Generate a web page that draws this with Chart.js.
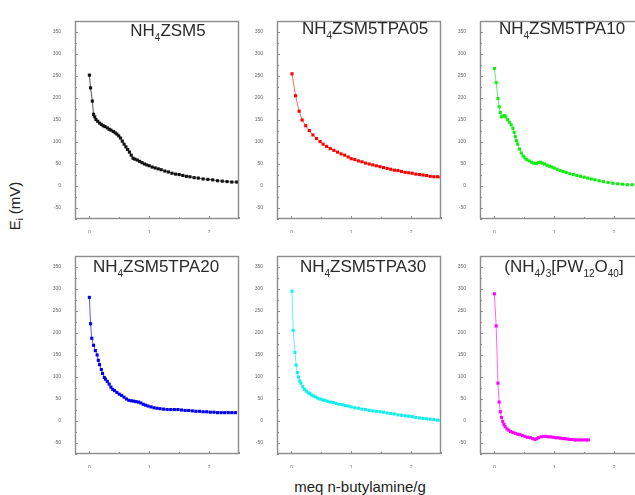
<!DOCTYPE html>
<html>
<head>
<meta charset="utf-8">
<script src="https://cdn.jsdelivr.net/npm/chart.js@4.4.1/dist/chart.umd.min.js"></script>
<style>
  html, body { margin: 0; padding: 0; background: #fff; overflow: hidden; }
  body { width: 635px; height: 495px; position: relative; font-family: "Liberation Sans", Arial, sans-serif; }
  .panel { position: absolute; }
  .panel canvas { display: block; }
  .title { position: absolute; transform: translate(-50%, -50%); white-space: nowrap; font-size: 17px; color: #2a2a2a; }
  .title sub { font-size: 10px; vertical-align: -5px; }
  .ytitle { position: absolute; left: 15px; top: 206px; transform: translate(-50%, -50%) rotate(-90deg); font-size: 15px; color: #222; white-space: nowrap; }
  .ytitle sub { font-size: 9px; vertical-align: -3px; }
  .xtitle { position: absolute; left: 360px; top: 486px; transform: translate(-50%, -50%); font-size: 15px; color: #222; white-space: nowrap; }
</style>
</head>
<body>
<div class="ytitle">E<sub>i</sub> (mV)</div>
<div class="xtitle">meq n-butylamine/g</div>
<script>
// axis ticks shared by all panels
const X_MAJOR = [0, 1, 2];
const X_MINOR = [0.5, 1.5, 2.5];
const Y_MAJOR = [-50, 0, 50, 100, 150, 200, 250, 300, 350];
const Y_MINOR = [-75, -25, 25, 75, 125, 175, 225, 275, 325, 375];

// NH4ZSM5 (black)
const ZSM5_X = [0.00, 0.02, 0.05, 0.07, 0.09, 0.11, 0.14, 0.17, 0.20, 0.23, 0.26, 0.30, 0.33, 0.36, 0.40, 0.43, 0.46, 0.49, 0.52, 0.55, 0.58, 0.61, 0.64, 0.67, 0.70, 0.73, 0.76, 0.80, 0.84, 0.88, 0.92, 0.96, 1.00, 1.05, 1.10, 1.15, 1.20, 1.26, 1.32, 1.38, 1.44, 1.50, 1.56, 1.62, 1.68, 1.75, 1.82, 1.90, 1.98, 2.06, 2.14, 2.22, 2.30, 2.38, 2.46, 2.52];
const ZSM5_Y = [252, 223, 193, 163, 157, 151, 147, 143, 140, 137, 135, 132, 129, 127, 124, 121, 118, 114, 109, 102, 95, 89, 83, 77, 70, 63, 61, 59, 56, 53, 50, 48, 46, 43, 41, 39, 37, 34, 32, 29, 27, 26, 24, 22, 21, 19, 18, 16, 15, 14, 12, 11, 10, 9, 9, 8];

// NH4ZSM5TPA05 (red)
const TPA05_X = [0.01, 0.07, 0.13, 0.18, 0.24, 0.30, 0.36, 0.42, 0.48, 0.53, 0.59, 0.65, 0.71, 0.77, 0.83, 0.89, 0.95, 1.00, 1.06, 1.12, 1.18, 1.24, 1.30, 1.36, 1.42, 1.48, 1.54, 1.60, 1.66, 1.72, 1.78, 1.84, 1.90, 1.96, 2.02, 2.08, 2.14, 2.20, 2.26, 2.32, 2.38, 2.44, 2.50];
const TPA05_Y = [255, 205, 170, 150, 137, 126, 116, 108, 101, 95, 90, 85, 81, 77, 73, 70, 66, 62, 60, 57, 55, 52, 50, 48, 46, 44, 42, 40, 38, 36, 35, 33, 31, 30, 29, 27, 26, 25, 24, 22, 21, 21, 20];

// NH4ZSM5TPA10 (green)
const TPA10_X = [0.00, 0.03, 0.06, 0.08, 0.10, 0.12, 0.14, 0.17, 0.19, 0.22, 0.25, 0.28, 0.31, 0.33, 0.35, 0.37, 0.39, 0.42, 0.45, 0.48, 0.51, 0.54, 0.58, 0.62, 0.66, 0.70, 0.74, 0.77, 0.80, 0.84, 0.88, 0.92, 0.96, 1.00, 1.05, 1.10, 1.15, 1.20, 1.26, 1.32, 1.38, 1.44, 1.50, 1.56, 1.62, 1.68, 1.75, 1.82, 1.90, 1.98, 2.06, 2.14, 2.22, 2.30, 2.38, 2.46, 2.52];
const TPA10_Y = [267, 235, 199, 180, 167, 157, 159, 160, 157, 151, 145, 139, 131, 122, 112, 103, 95, 84, 75, 68, 64, 60, 57, 54, 52, 51, 53, 54, 52, 50, 47, 45, 43, 41, 38, 35, 33, 31, 28, 26, 24, 22, 20, 18, 16, 14, 12, 10, 8, 6, 5, 4, 3, 3, 2, 2, 2];

// NH4ZSM5TPA20 (blue)
const TPA20_X = [0.00, 0.02, 0.04, 0.07, 0.10, 0.13, 0.15, 0.17, 0.20, 0.22, 0.25, 0.27, 0.30, 0.33, 0.36, 0.39, 0.42, 0.46, 0.50, 0.54, 0.58, 0.62, 0.66, 0.70, 0.74, 0.78, 0.82, 0.86, 0.90, 0.94, 0.98, 1.03, 1.08, 1.13, 1.18, 1.24, 1.30, 1.36, 1.42, 1.48, 1.54, 1.60, 1.66, 1.72, 1.78, 1.84, 1.90, 1.96, 2.02, 2.08, 2.14, 2.20, 2.26, 2.32, 2.38, 2.44];
const TPA20_Y = [281, 221, 188, 172, 160, 150, 138, 128, 117, 108, 99, 95, 90, 84, 77, 72, 69, 65, 61, 58, 54, 50, 47, 46, 45, 44, 43, 41, 38, 36, 34, 32, 30, 29, 28, 27, 26, 26, 26, 26, 25, 24, 24, 23, 22, 22, 21, 21, 20, 20, 19, 19, 19, 19, 19, 19];

// NH4ZSM5TPA30 (cyan)
const TPA30_X = [0.01, 0.03, 0.06, 0.08, 0.10, 0.12, 0.14, 0.16, 0.19, 0.22, 0.25, 0.28, 0.31, 0.34, 0.37, 0.40, 0.44, 0.48, 0.52, 0.56, 0.60, 0.65, 0.70, 0.75, 0.80, 0.85, 0.90, 0.95, 1.00, 1.06, 1.12, 1.18, 1.24, 1.30, 1.36, 1.42, 1.48, 1.54, 1.60, 1.66, 1.72, 1.78, 1.84, 1.90, 1.96, 2.02, 2.08, 2.14, 2.20, 2.26, 2.32, 2.38, 2.44, 2.50];
const TPA30_Y = [295, 206, 156, 127, 110, 100, 91, 86, 78, 72, 68, 64, 62, 59, 57, 55, 52, 50, 48, 47, 45, 43, 42, 40, 38, 37, 35, 34, 32, 30, 29, 27, 26, 24, 23, 22, 21, 20, 18, 17, 16, 14, 13, 12, 11, 10, 8, 7, 6, 5, 4, 3, 2, 1];

// (NH4)3[PW12O40] (magenta)
const PW12_X = [0.00, 0.03, 0.06, 0.08, 0.10, 0.12, 0.14, 0.16, 0.18, 0.21, 0.24, 0.27, 0.31, 0.35, 0.39, 0.43, 0.47, 0.51, 0.55, 0.60, 0.64, 0.68, 0.71, 0.74, 0.78, 0.82, 0.86, 0.90, 0.94, 0.98, 1.02, 1.06, 1.10, 1.14, 1.18, 1.22, 1.26, 1.30, 1.34, 1.38, 1.42, 1.46, 1.50, 1.54, 1.57];
const PW12_Y = [289, 216, 86, 43, 21, 8, -1, -8, -13, -18, -21, -24, -26, -28, -30, -31, -33, -35, -37, -38, -40, -42, -40, -38, -36, -35, -35, -36, -36, -37, -38, -38, -39, -40, -40, -41, -42, -42, -43, -43, -43, -43, -43, -43, -43];

const PANELS = [
  { x: ZSM5_X,  y: ZSM5_Y,  color: '#111111', line: '#555555', left: 75,  top: 14,  tx: 168, ty: 32, title: 'NH<sub>4</sub>ZSM5' },
  { x: TPA05_X, y: TPA05_Y, color: '#ff0000', line: '#ff6666', left: 277, top: 14,  tx: 365, ty: 30, title: 'NH<sub>4</sub>ZSM5TPA05' },
  { x: TPA10_X, y: TPA10_Y, color: '#11ee11', line: '#66ee66', left: 480, top: 14,  tx: 562, ty: 30, title: 'NH<sub>4</sub>ZSM5TPA10' },
  { x: TPA20_X, y: TPA20_Y, color: '#0000ee', line: '#5555ff', left: 75,  top: 249, tx: 156, ty: 268, title: 'NH<sub>4</sub>ZSM5TPA20' },
  { x: TPA30_X, y: TPA30_Y, color: '#11eeee', line: '#66f2f2', left: 277, top: 249, tx: 363, ty: 268, title: 'NH<sub>4</sub>ZSM5TPA30' },
  { x: PW12_X,  y: PW12_Y,  color: '#ff00ff', line: '#ff66ff', left: 480, top: 249, tx: 564, ty: 268, title: '(NH<sub>4</sub>)<sub>3</sub>[PW<sub>12</sub>O<sub>40</sub>]' },
];

const BOX_W = 165, BOX_H = 205, Y_AXIS_W = 28, X_AXIS_H = 14, PAD_T = 2, PAD_R = 3;

// frame box with inward ticks, Origin style
const framePlugin = {
  id: 'frame',
  afterDraw(chart) {
    const { ctx, chartArea: a, scales: { x, y } } = chart;
    ctx.save();
    ctx.strokeStyle = '#8c8c8c';
    ctx.lineWidth = 1.4;
    ctx.strokeRect(a.left + 0.5, a.top + 0.5, a.width - 1, a.height - 1);
    ctx.lineWidth = 1;
    ctx.beginPath();
    const tickX = (v, len) => {
      const px = Math.round(x.getPixelForValue(v)) + 0.5;
      ctx.moveTo(px, a.bottom); ctx.lineTo(px, a.bottom - len);
    };
    const tickY = (v, len) => {
      const py = Math.round(y.getPixelForValue(v)) + 0.5;
      ctx.moveTo(a.left, py); ctx.lineTo(a.left + len, py);
    };
    X_MAJOR.forEach((v) => tickX(v, 3));
    X_MINOR.forEach((v) => tickX(v, 2));
    Y_MAJOR.forEach((v) => tickY(v, 3));
    Y_MINOR.forEach((v) => tickY(v, 2));
    ctx.stroke();
    ctx.restore();
  },
};

PANELS.forEach((p) => {
  const wrap = document.createElement('div');
  wrap.className = 'panel';
  wrap.style.left = (p.left - Y_AXIS_W) + 'px';
  wrap.style.top = (p.top - PAD_T) + 'px';
  const canvas = document.createElement('canvas');
  const w = Y_AXIS_W + BOX_W + PAD_R, h = PAD_T + BOX_H + X_AXIS_H;
  canvas.width = w; canvas.height = h;
  canvas.style.width = w + 'px'; canvas.style.height = h + 'px';
  wrap.appendChild(canvas);
  document.body.appendChild(wrap);

  const t = document.createElement('div');
  t.className = 'title';
  t.style.left = p.tx + 'px';
  t.style.top = p.ty + 'px';
  t.innerHTML = p.title;
  document.body.appendChild(t);

  new Chart(canvas.getContext('2d'), {
    type: 'scatter',
    data: {
      datasets: [{
        data: p.x.map((v, i) => ({ x: v, y: p.y[i] })),
        showLine: true,
        borderColor: p.line,
        borderWidth: 1,
        pointStyle: 'rect',
        pointRadius: 2.2,
        pointBackgroundColor: p.color,
        pointBorderColor: p.color,
        pointBorderWidth: 0,
      }],
    },
    options: {
      responsive: false,
      animation: false,
      layout: { padding: { top: PAD_T, right: PAD_R, left: 0, bottom: 0 } },
      plugins: { legend: { display: false }, tooltip: { enabled: false } },
      scales: {
        x: {
          type: 'linear',
          min: -0.24,
          max: 2.5,
          grid: { display: false },
          border: { display: false },
          afterBuildTicks: (s) => { s.ticks = X_MAJOR.map((v) => ({ value: v })); },
          afterFit: (s) => { s.height = X_AXIS_H; },
          ticks: { padding: 3, color: '#666', font: { size: 5, family: 'Liberation Sans' }, maxRotation: 0 },
        },
        y: {
          min: -75,
          max: 375,
          grid: { display: false },
          border: { display: false },
          afterBuildTicks: (s) => { s.ticks = Y_MAJOR.map((v) => ({ value: v })); },
          afterFit: (s) => { s.width = Y_AXIS_W; },
          ticks: { padding: 6, color: '#666', font: { size: 5, family: 'Liberation Sans' } },
        },
      },
    },
    plugins: [framePlugin],
  });
});
</script>
</body>
</html>
